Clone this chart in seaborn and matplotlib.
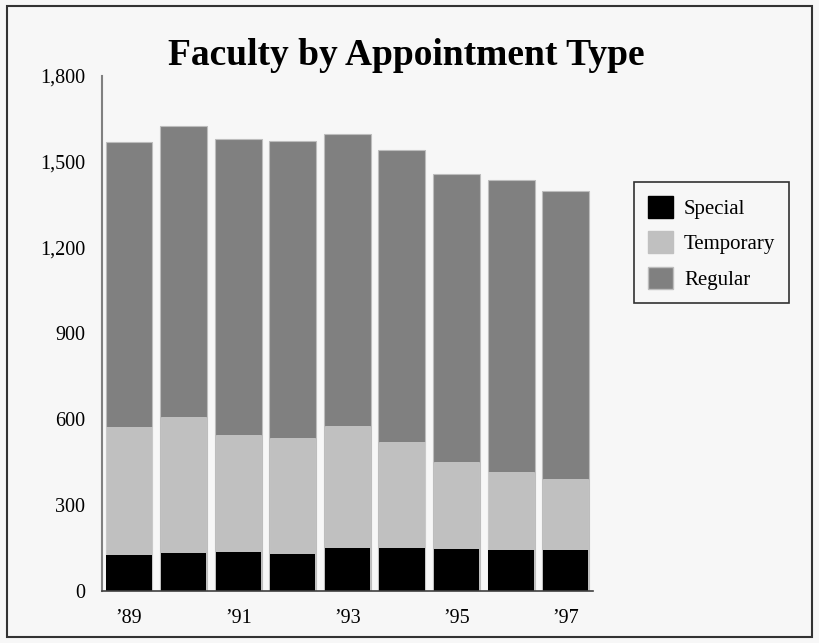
import matplotlib
matplotlib.use("Agg")
import matplotlib.pyplot as plt
import seaborn as sns
import pandas as pd
import numpy as np
from matplotlib.patches import Patch, Rectangle

years = ["’89", "’90", "’91", "’92", "’93", "’94", "’95", "’96", "’97"]
special = [125, 134, 135, 129, 149, 149, 148, 142, 144]
temporary = [447, 475, 409, 406, 429, 373, 304, 273, 247]
regular = [999, 1015, 1035, 1038, 1019, 1019, 1007, 1021, 1007]
tick_labels = ["’89", "", "’91", "", "’93", "", "’95", "", "’97"]

df = pd.DataFrame({"year": years, "special": special,
                   "temporary": temporary, "regular": regular})
df["st"] = df["special"] + df["temporary"]
df["total"] = df["st"] + df["regular"]

sns.set_theme(style="white")
plt.rcParams["font.family"] = ["Liberation Serif", "DejaVu Serif"]
plt.rcParams["text.color"] = "black"
plt.rcParams["xtick.color"] = "black"
plt.rcParams["ytick.color"] = "black"

bg = "#f7f7f7"
fig = plt.figure(figsize=(8.19, 6.43), dpi=100, facecolor=bg)
ax = fig.add_axes([0.1242, 0.0809, 0.5998, 0.8009])
ax.set_facecolor(bg)

sns.barplot(data=df, x="year", y="total", color="#808080", saturation=1,
            width=0.86, edgecolor="#bdbdbd", linewidth=0.8, ax=ax)
sns.barplot(data=df, x="year", y="st", color="#c0c0c0", saturation=1,
            width=0.83, edgecolor="#cfcfcf", linewidth=0.5, ax=ax)
sns.barplot(data=df, x="year", y="special", color="#000000", saturation=1,
            width=0.83, linewidth=0, ax=ax)

ax.set_xlim(-0.5, 8.5)
ax.set_ylim(0, 1800)
ax.set_yticks(np.arange(0, 1801, 300))
ax.set_yticklabels([f"{v:,}" for v in range(0, 1801, 300)], fontsize=14.5, color="black")
ax.set_xticks(range(len(years)))
ax.set_xticklabels(tick_labels, fontsize=14.5, color="black")
ax.tick_params(axis="x", length=0, pad=13)
ax.tick_params(axis="y", length=0, pad=12)
ax.set_xlabel("")
ax.set_ylabel("")
for s in ["top", "right"]:
    ax.spines[s].set_visible(False)
ax.spines["left"].set_color("#808080")
ax.spines["left"].set_linewidth(1.5)
ax.spines["bottom"].set_color("#404040")
ax.spines["bottom"].set_linewidth(1.2)

fig.text(0.4966, 0.8989, "Faculty by Appointment Type", ha="center", va="baseline",
         fontsize=27, fontweight="bold", color="black")

handles = [Patch(facecolor="#000000", edgecolor="#000000", label="Special"),
           Patch(facecolor="#c0c0c0", edgecolor="#c0c0c0", label="Temporary"),
           Patch(facecolor="#808080", edgecolor="#bdbdbd", label="Regular")]
leg = fig.legend(handles=handles, loc="upper left", bbox_to_anchor=(0.7741, 0.7170),
                 fontsize=15, frameon=True, fancybox=False, handlelength=1.2,
                 handleheight=1.25, handletextpad=0.55, labelspacing=0.6,
                 borderpad=0.65, borderaxespad=0, facecolor=bg)
leg.get_frame().set_edgecolor("#000000")
leg.get_frame().set_linewidth(1.2)
for t in leg.get_texts():
    t.set_color("black")

fig.patches.append(Rectangle((0.009, 0.009), 0.982, 0.982, transform=fig.transFigure,
                             fill=False, edgecolor="#333333", linewidth=1.5))

fig.savefig("out.png", dpi=100, facecolor=bg)
